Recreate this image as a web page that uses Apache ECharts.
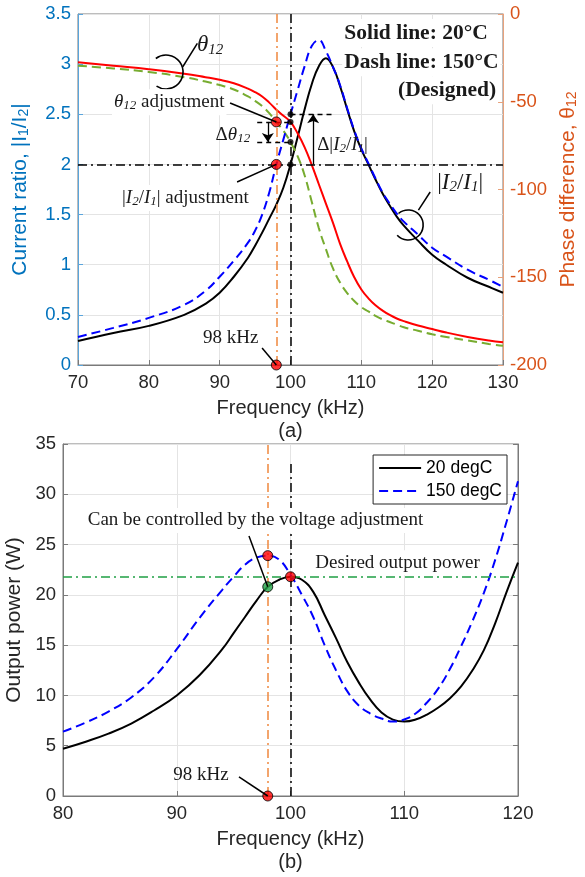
<!DOCTYPE html>
<html>
<head>
<meta charset="utf-8">
<script src="https://cdn.jsdelivr.net/npm/echarts@6/dist/echarts.min.js"></script>
<style>
  html, body { margin: 0; padding: 0; background: #fff; }
  #chart { width: 585px; height: 877px; }
</style>
</head>
<body>
<div id="chart"></div>
<script>
// (a) current ratio |I2/I1| (left axis) and phase difference theta12 (right axis)
const freqA = [70, 75, 80, 85, 88, 90, 92, 94, 95, 96, 97, 98, 99, 100, 101, 102, 103, 104, 105, 106,
  107, 108, 109, 110, 111, 112, 113, 114, 115, 116, 118, 120, 122, 125, 128, 130];
const ratio20 = [0.24, 0.32, 0.39, 0.5, 0.61, 0.72, 0.88, 1.07, 1.19, 1.32, 1.46, 1.6, 1.77, 2.0, 2.27, 2.55, 2.8, 2.98, 3.06, 2.97,
  2.78, 2.55, 2.33, 2.15, 2.0, 1.85, 1.71, 1.59, 1.48, 1.39, 1.24, 1.1, 1.0, 0.87, 0.78, 0.72];
const ratio150 = [0.28, 0.37, 0.47, 0.6, 0.74, 0.88, 1.04, 1.22, 1.34, 1.5, 1.72, 2.0, 2.25, 2.5, 2.74, 2.98, 3.18, 3.24, 3.13, 2.97,
  2.79, 2.56, 2.34, 2.16, 2.01, 1.86, 1.72, 1.61, 1.51, 1.43, 1.3, 1.17, 1.08, 0.95, 0.85, 0.78];
const phase20 = [-27.5, -29.5, -31.5, -34, -36, -37.5, -39.5, -42.5, -44.5, -47, -50.5, -54.5, -58, -61.5, -68, -76, -86, -97, -108, -119,
  -131, -141, -150, -157, -162, -166, -169, -171.5, -173.5, -175, -177.5, -179.5, -181.5, -184, -186, -187];
const phase150 = [-29.5, -31, -33, -36, -38.5, -40.5, -43, -47, -49.5, -52.5, -56.5, -61.5, -66.5, -73, -81, -92, -107, -122, -134, -145,
  -153, -159, -163.5, -167, -169.5, -172, -174, -175.5, -177, -178.5, -180.5, -182.5, -184, -186, -188, -189];

// (b) output power
const freqB = [80, 82, 84, 86, 88, 90, 92, 94, 95, 96, 97, 98, 99, 100, 101, 102, 103, 104, 105, 106,
  107, 108, 109, 110, 111, 112, 113, 114, 115, 116, 117, 118, 119, 120];
const power20 = [4.7, 5.4, 6.2, 7.2, 8.5, 10.0, 12.0, 14.6, 16.2, 17.8, 19.4, 20.8, 21.5, 21.8, 21.5, 20.3, 18.0, 15.7, 13.3, 11.3,
  9.6, 8.3, 7.6, 7.4, 7.6, 8.1, 8.8, 9.7, 10.9, 12.5, 14.5, 17.2, 20.3, 23.2];
const power150 = [6.4, 7.3, 8.4, 9.8, 11.8, 14.6, 17.7, 20.5, 21.8, 23.0, 23.7, 23.9, 23.5, 22.0, 20.0, 17.8, 15.0, 12.5, 10.4, 9.0,
  8.2, 7.7, 7.4, 7.6, 8.2, 9.3, 10.7, 12.6, 14.9, 17.4, 20.2, 23.5, 27.3, 31.3];

// operating points and reference values
const fDesigned = 98;
const fNominal = 100;
const ratioRef = 2.0;
const ratioAt100 = 2.5;
const phaseRed = -61.5;
const phaseAt100 = -73;
const powerDesired = 21.8;
const redDotsRatio = [[98, 2.0], [98, 0]];
const redDotsPhase = [[98, -61.5]];
const blackDotsRatio = [[100, 2.0], [100, 2.5]];
const blackDotsPhase = [[100, -61.5], [100, -73]];
const redDotsPower = [[98, 23.9], [100, 21.8], [98, 0]];
const greenDotsPower = [[98, 20.8]];

const pairs = (xs, ys) => xs.map((x, i) => [x, ys[i]]);

const sans = '"Liberation Sans", Arial, sans-serif';
const serif = '"Liberation Serif", "Times New Roman", serif';
const dashDot = [9, 4, 2, 4];
const dashed = [9, 5];
const gridColor = '#e4e4e4';
const boxColor = '#7a7a7a';
const blueAxis = '#0072BD';
const orangeAxis = '#D95319';
const smooth = 0.45;

const chart = echarts.init(document.getElementById('chart'));

function xAxisOf(grid, min, max, name) {
  return {
    gridIndex: grid, type: 'value', min: min, max: max, interval: 10,
    name: name, nameLocation: 'middle', nameGap: 32,
    nameTextStyle: { fontFamily: sans, fontSize: 20, color: '#262626', lineHeight: 23 },
    axisLine: { lineStyle: { color: boxColor } },
    axisTick: { inside: true, length: 5, lineStyle: { color: boxColor } },
    axisLabel: { fontFamily: sans, fontSize: 18.5, color: '#262626', margin: 8 },
    splitLine: { show: true, lineStyle: { color: gridColor } }
  };
}

function curve(name, xi, yi, xs, ys, color, type) {
  return {
    name: name, type: 'line', xAxisIndex: xi, yAxisIndex: yi,
    data: pairs(xs, ys), smooth: smooth, symbol: 'none',
    itemStyle: { color: color },
    lineStyle: { color: color, width: 2, type: type || 'solid' }
  };
}

function dots(xi, yi, data, color, size) {
  return {
    type: 'scatter', xAxisIndex: xi, yAxisIndex: yi, data: data, clip: false, z: 5,
    symbolSize: size, itemStyle: { color: color, borderColor: '#000', borderWidth: size > 6 ? 1 : 0 }
  };
}

const r20 = curve('ratio 20', 0, 0, freqA, ratio20, '#000');
r20.markLine = {
  silent: true, symbol: 'none', label: { show: false },
  data: [
    { xAxis: fDesigned, lineStyle: { color: '#f0883e', type: dashDot, width: 1.5 } },
    { xAxis: fNominal, lineStyle: { color: '#000', type: dashDot, width: 1.5 } },
    { yAxis: ratioRef, lineStyle: { color: '#000', type: dashDot, width: 1.5 } },
    [{ coord: [fNominal, ratioAt100], lineStyle: { color: '#000', type: [5, 4], width: 1.3 } }, { coord: [106.3, ratioAt100] }]
  ]
};
const p20 = curve('phase 20', 0, 1, freqA, phase20, '#ff0000');
p20.markLine = {
  silent: true, symbol: 'none', label: { show: false },
  lineStyle: { color: '#000', type: [5, 4], width: 1.3 },
  data: [
    [{ coord: [95.3, phaseRed] }, { coord: [fNominal, phaseRed] }],
    [{ coord: [95.3, phaseAt100] }, { coord: [fNominal, phaseAt100] }]
  ]
};
const p150 = curve('phase 150', 0, 1, freqA, phase150, '#77AC30', dashed);
p150.markLine = {
  silent: true, symbol: ['none', 'arrow'], symbolSize: 9, label: { show: false },
  lineStyle: { color: '#000', type: 'solid', width: 1.3 },
  data: [[{ coord: [96.8, phaseRed] }, { coord: [96.8, phaseAt100] }]]
};
const r150 = curve('ratio 150', 0, 0, freqA, ratio150, '#0000ff', dashed);
r150.markLine = {
  silent: true, symbol: ['none', 'arrow'], symbolSize: 9, label: { show: false },
  lineStyle: { color: '#000', type: 'solid', width: 1.3 },
  data: [[{ coord: [103.2, ratioRef] }, { coord: [103.2, ratioAt100] }]]
};
const w20 = curve('20 degC', 1, 2, freqB, power20, '#000');
w20.markLine = {
  silent: true, symbol: 'none', label: { show: false },
  data: [
    { xAxis: fDesigned, lineStyle: { color: '#f0883e', type: dashDot, width: 1.5 } },
    [{ coord: [fNominal, 0], lineStyle: { color: '#000', type: dashDot, width: 1.5 } }, { coord: [fNominal, 33.2] }],
    { yAxis: powerDesired, lineStyle: { color: '#1fa044', type: dashDot, width: 1.5 } }
  ]
};
const w150 = curve('150 degC', 1, 2, freqB, power150, '#0000ff', dashed);

chart.setOption({
  animation: false,
  backgroundColor: '#fff',
  grid: [
    { left: 78, top: 14, width: 425, height: 351, show: true, borderColor: boxColor, borderWidth: 1, outerBoundsMode: 'none' },
    { left: 63, top: 444, width: 455, height: 352, show: true, borderColor: boxColor, borderWidth: 1, outerBoundsMode: 'none' }
  ],
  legend: {
    data: ['20 degC', '150 degC'],
    orient: 'vertical', right: 78, top: 455,
    itemWidth: 42, itemHeight: 12, itemGap: 5,
    padding: [4, 5, 4, 5],
    itemStyle: { opacity: 0 },
    borderColor: '#262626', borderWidth: 1, backgroundColor: '#fff',
    textStyle: { fontFamily: sans, fontSize: 17.5, color: '#000' }
  },
  xAxis: [
    xAxisOf(0, 70, 130, 'Frequency (kHz)\n(a)'),
    xAxisOf(1, 80, 120, 'Frequency (kHz)\n(b)')
  ],
  yAxis: [
    {
      gridIndex: 0, type: 'value', position: 'left', min: 0, max: 3.5, interval: 0.5,
      name: 'Current ratio, |I{s|1}/I{s|2}|', nameLocation: 'middle', nameRotate: 90, nameGap: 47,
      nameTextStyle: { fontFamily: sans, fontSize: 21, color: blueAxis,
        rich: { s: { fontFamily: sans, fontSize: 14, color: blueAxis, padding: [8, 0, 0, 0] } } },
      axisLine: { show: true, lineStyle: { color: '#5aa5dc' } },
      axisTick: { inside: true, length: 5, lineStyle: { color: '#5aa5dc' } },
      axisLabel: { fontFamily: sans, fontSize: 18.5, color: blueAxis, margin: 7 },
      splitLine: { show: true, lineStyle: { color: gridColor } }
    },
    {
      gridIndex: 0, type: 'value', position: 'right', min: -200, max: 0, interval: 50,
      name: 'Phase difference, θ{s|12}', nameLocation: 'middle', nameRotate: 90, nameGap: 52,
      nameTextStyle: { fontFamily: sans, fontSize: 21, color: orangeAxis,
        rich: { s: { fontFamily: sans, fontSize: 14, color: orangeAxis, padding: [8, 0, 0, 0] } } },
      axisLine: { show: true, lineStyle: { color: '#e8a27c' } },
      axisTick: { show: true, inside: true, length: 5, lineStyle: { color: '#e8a27c' } },
      axisLabel: { fontFamily: sans, fontSize: 18.5, color: orangeAxis, margin: 7 },
      splitLine: { show: false }
    },
    {
      gridIndex: 1, type: 'value', position: 'left', min: 0, max: 35, interval: 5,
      name: 'Output power (W)', nameLocation: 'middle', nameRotate: 90, nameGap: 33,
      nameTextStyle: { fontFamily: sans, fontSize: 21, color: '#262626' },
      axisLine: { show: true, lineStyle: { color: boxColor } },
      axisTick: { inside: true, length: 5, lineStyle: { color: boxColor } },
      axisLabel: { fontFamily: sans, fontSize: 18.5, color: '#262626', margin: 7 },
      splitLine: { show: true, lineStyle: { color: gridColor } }
    },
    {
      gridIndex: 1, type: 'value', position: 'right', min: 0, max: 35, interval: 5,
      axisLine: { show: true, lineStyle: { color: boxColor } },
      axisTick: { inside: true, length: 5, lineStyle: { color: boxColor } },
      axisLabel: { show: false },
      splitLine: { show: false }
    }
  ],
  series: [
    r20, p20, p150, r150,
    dots(0, 0, blackDotsRatio, '#000', 6),
    dots(0, 1, blackDotsPhase, '#000', 6),
    dots(0, 0, redDotsRatio, '#ff0000', 10),
    dots(0, 1, redDotsPhase, '#ff0000', 10),
    w20, w150,
    dots(1, 2, redDotsPower, '#ff0000', 10),
    dots(1, 2, greenDotsPower, '#1fa044', 10)
  ]
});

// annotations, anchored in data coordinates
const noteRich = {
  i: { fontFamily: serif, fontSize: 19, fontStyle: 'italic', color: '#1a1a1a' },
  s: { fontFamily: serif, fontSize: 13, fontStyle: 'italic', color: '#1a1a1a', padding: [7, 0, 0, 0] },
  I: { fontFamily: serif, fontSize: 23, fontStyle: 'italic', color: '#1a1a1a' },
  S: { fontFamily: serif, fontSize: 15, fontStyle: 'italic', color: '#1a1a1a', padding: [9, 0, 0, 0] },
  N: { fontFamily: serif, fontSize: 23, color: '#1a1a1a' }
};

function pt(xi, yi, p) {
  return [chart.convertToPixel({ xAxisIndex: xi }, p[0]), chart.convertToPixel({ yAxisIndex: yi }, p[1])];
}

const els = [];
function note(p, str, opt) {
  opt = opt || {};
  const align = opt.align || 'left';
  els.push({
    type: 'text', z: 30, x: p[0], y: p[1],
    style: {
      text: str, rich: noteRich, fill: '#1a1a1a',
      fontFamily: serif, fontSize: opt.size || 19, fontWeight: opt.bold ? 'bold' : 'normal',
      align: align, verticalAlign: 'middle', textAlign: align, textVerticalAlign: 'middle',
      backgroundColor: opt.bg ? '#fff' : null, padding: opt.bg ? [3, 2, 3, 2] : 0
    }
  });
}
function leader(a, b) {
  els.push({ type: 'line', z: 20, shape: { x1: a[0], y1: a[1], x2: b[0], y2: b[1] }, style: { stroke: '#000', lineWidth: 1.5 } });
}
function hook(c, r, a0, a1) {
  els.push({
    type: 'arc', z: 20,
    shape: { cx: c[0], cy: c[1], r: r, startAngle: a0 * Math.PI / 180, endAngle: a1 * Math.PI / 180, clockwise: true },
    style: { stroke: '#000', lineWidth: 1.6, fill: 'none' }
  });
}

// (a)
note(pt(0, 0, [107.3, 3.31]), 'Solid line: 20°C', { bold: true, size: 21.5, bg: true });
note(pt(0, 0, [107.3, 3.02]), 'Dash line: 150°C', { bold: true, size: 21.5, bg: true });
note(pt(0, 0, [129.3, 2.74]), '(Designed)', { bold: true, size: 21.5, bg: true, align: 'right' });
note(pt(0, 0, [86.8, 3.19]), '{I|θ}{S|12}');
hook(pt(0, 0, [82.43, 2.921]), 17, -127, 124);
leader(pt(0, 0, [84.79, 2.974]), pt(0, 0, [86.85, 3.207]));
note(pt(0, 0, [74.8, 2.62]), '{i|θ}{s|12} adjustment', { bg: true });
leader(pt(0, 0, [91.47, 2.612]), pt(0, 1, redDotsPhase[0]));
note(pt(0, 0, [94.3, 2.29]), 'Δ{i|θ}{s|12}', { align: 'right' });
note(pt(0, 0, [75.93, 1.665]), '|{i|I}{s|2}/{i|I}{s|1}| adjustment', { bg: true });
leader(pt(0, 0, [92.46, 1.825]), pt(0, 0, redDotsRatio[0]));
note(pt(0, 0, [103.76, 2.19]), 'Δ|{i|I}{s|2}/{i|I}{s|1}|');
note(pt(0, 0, [120.7, 1.815]), '{N||}{I|I}{S|2}{N|/}{I|I}{S|1}{N||}');
hook(pt(0, 0, [116.61, 1.396]), 15, -130, 137);
leader(pt(0, 0, [118.06, 1.545]), pt(0, 0, [119.72, 1.725]));
note(pt(0, 0, [87.65, 0.27]), '98 kHz');
leader(pt(0, 0, [95.99, 0.17]), pt(0, 0, redDotsRatio[1]));

// (b)
note(pt(1, 2, [82.0, 27.4]), 'Can be controlled by the voltage adjustment', { bg: true });
leader(pt(1, 2, [96.35, 25.85]), pt(1, 2, greenDotsPower[0]));
note(pt(1, 2, [102.0, 23.2]), 'Desired output power', { bg: true });
note(pt(1, 2, [89.7, 2.1]), '98 kHz');
leader(pt(1, 2, [95.47, 1.89]), pt(1, 2, redDotsPower[2]));

chart.setOption({ graphic: { elements: els } });
</script>
</body>
</html>
